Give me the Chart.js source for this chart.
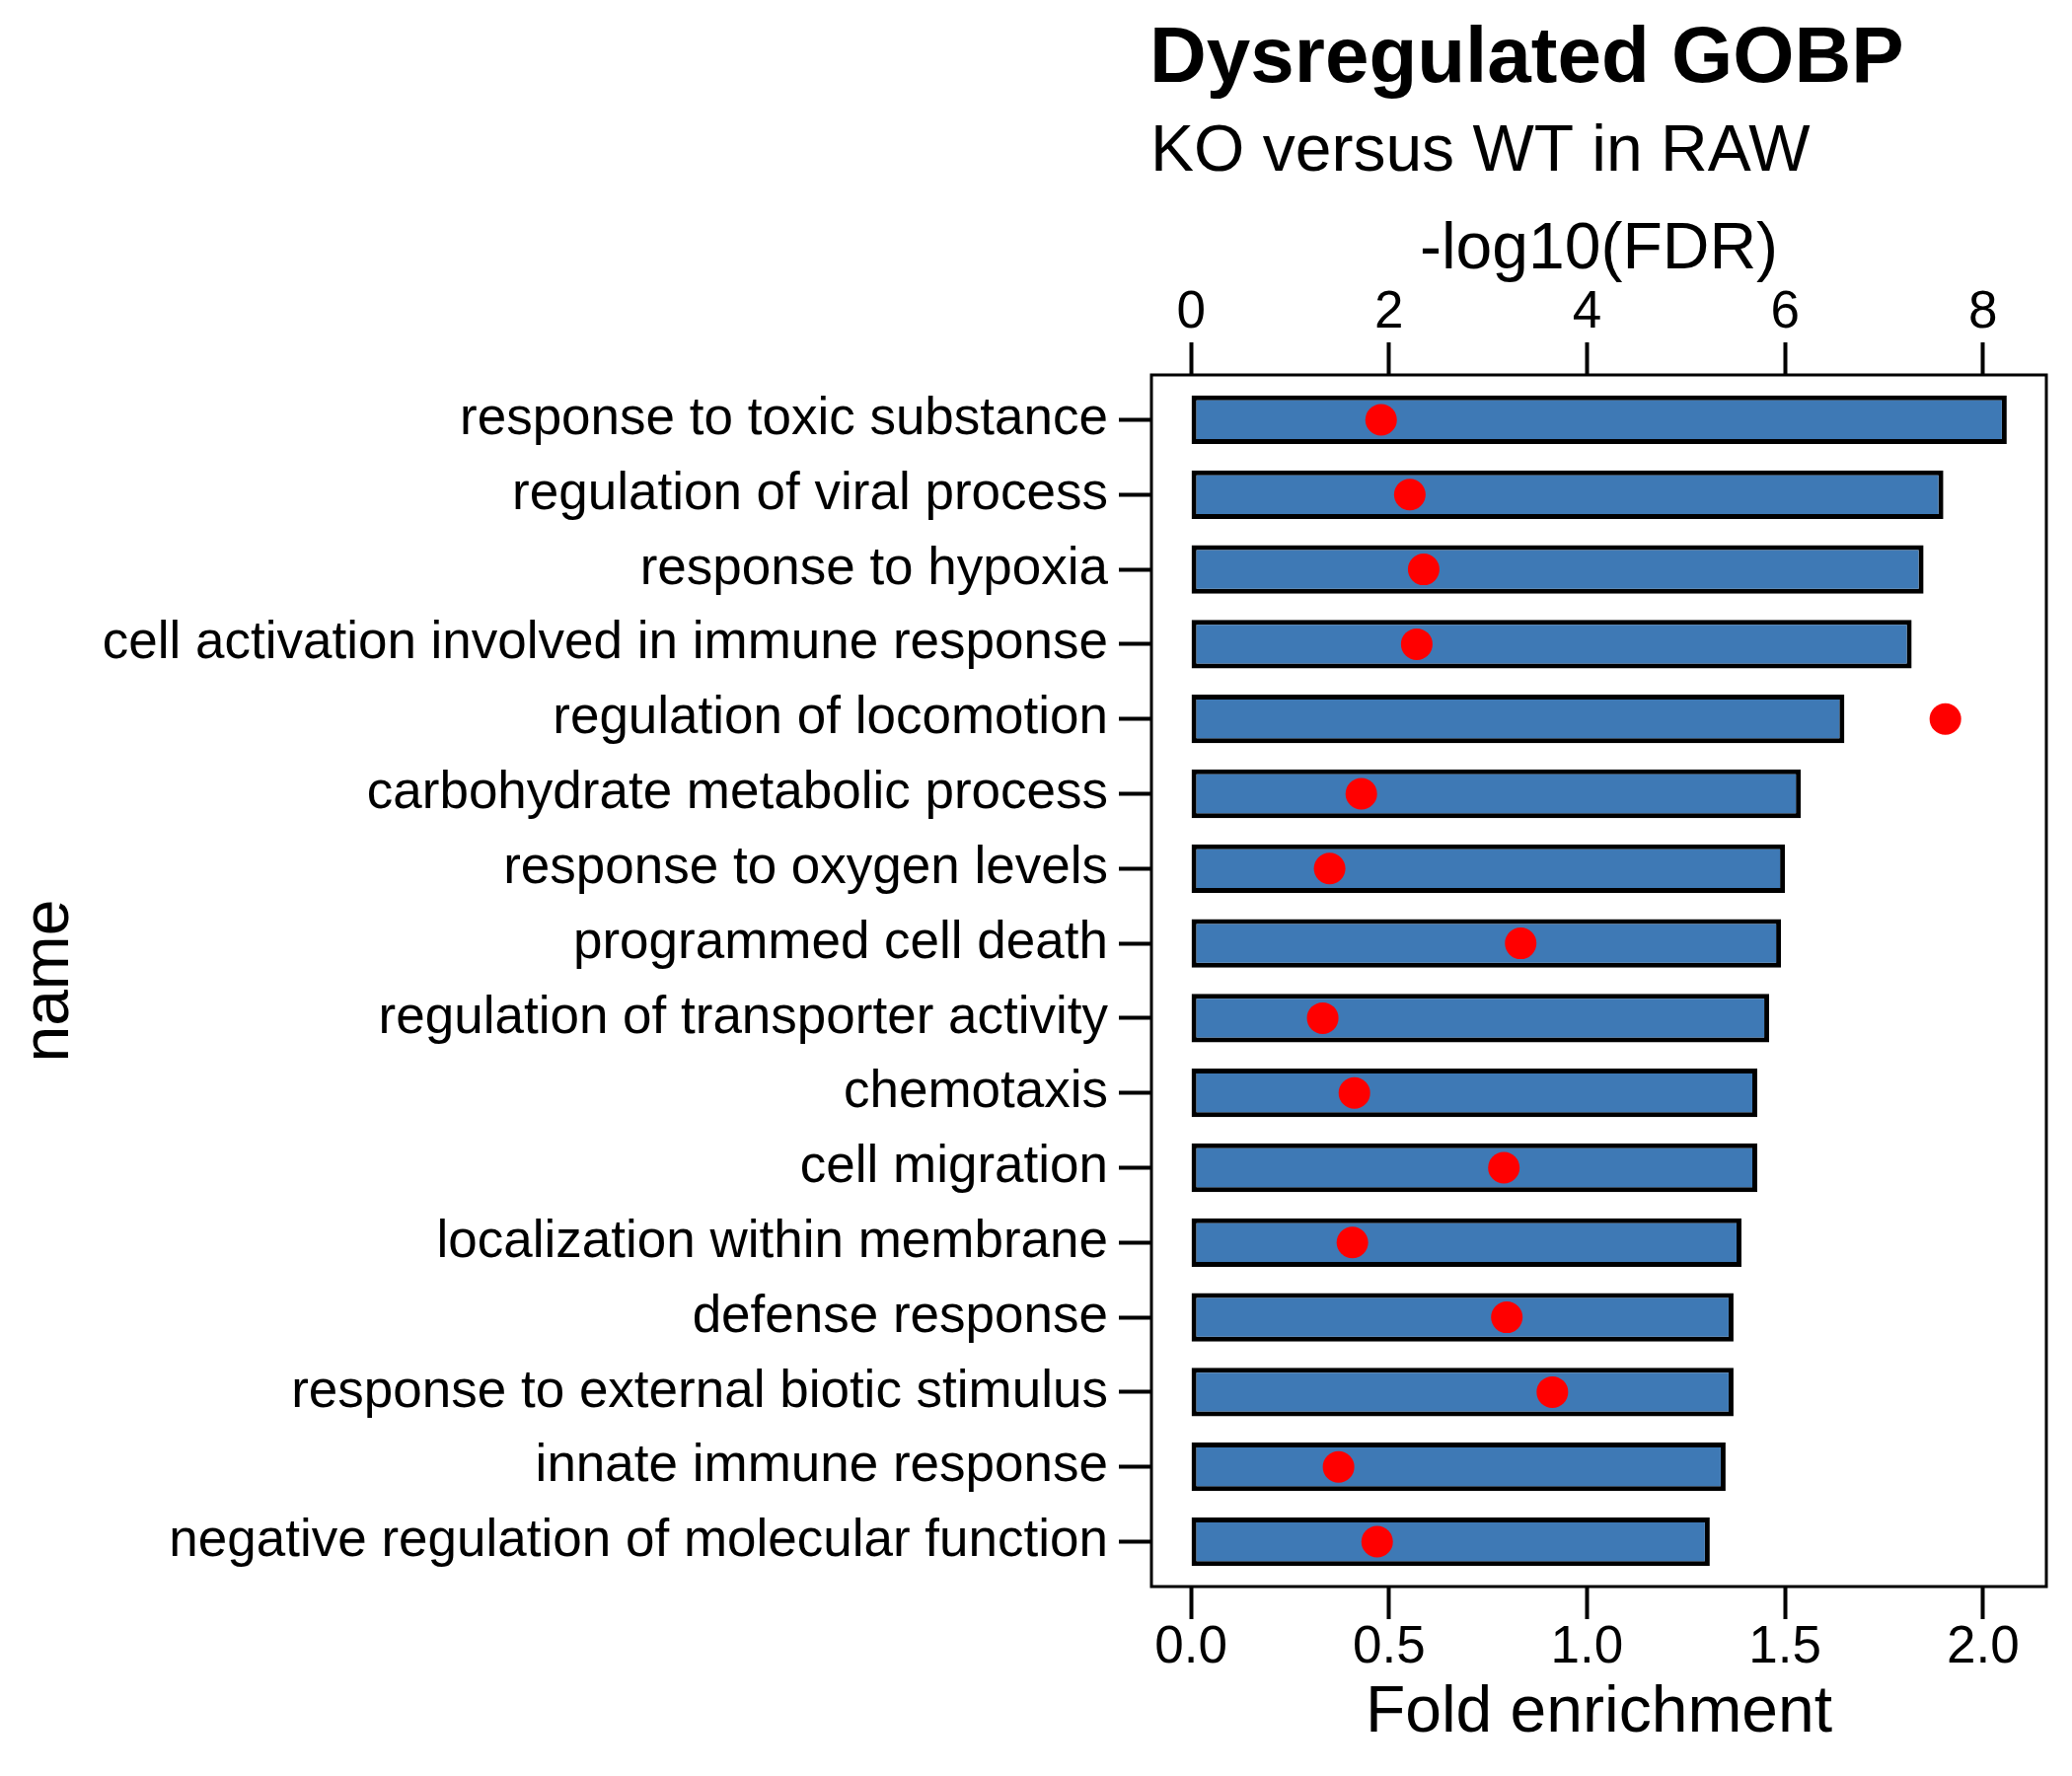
<!DOCTYPE html>
<html>
<head>
<meta charset="utf-8">
<script src="https://cdn.jsdelivr.net/npm/chart.js@4.4.0/dist/chart.umd.min.js"></script>
<style>
body { margin: 0; background: #fff; }
</style>
</head>
<body>
<canvas id="goChart" width="2100" height="1800"></canvas>
<script>
// GO terms, top to bottom
var termNames = [
    "response to toxic substance",
    "regulation of viral process",
    "response to hypoxia",
    "cell activation involved in immune response",
    "regulation of locomotion",
    "carbohydrate metabolic process",
    "response to oxygen levels",
    "programmed cell death",
    "regulation of transporter activity",
    "chemotaxis",
    "cell migration",
    "localization within membrane",
    "defense response",
    "response to external biotic stimulus",
    "innate immune response",
    "negative regulation of molecular function"
];
// bars (bottom axis)
var foldEnrichment = [2.06, 1.90, 1.85, 1.82, 1.65, 1.54, 1.50, 1.49, 1.46, 1.43, 1.43, 1.39, 1.37, 1.37, 1.35, 1.31];
// red dots (top axis)
var negLog10Fdr = [1.92, 2.21, 2.35, 2.28, 7.62, 1.72, 1.40, 3.33, 1.33, 1.65, 3.16, 1.63, 3.19, 3.65, 1.49, 1.88];

var foldTicks = [0, 0.5, 1, 1.5, 2];
var fdrTicks = [0, 2, 4, 6, 8];

var chartTitle = "Dysregulated GOBP";
var chartSubtitle = "KO versus WT in RAW";

var fontName = "'Liberation Sans', Arial, Helvetica, sans-serif";
var tickFont = { family: fontName, size: 53, lineHeight: 1 };
var axisTitleFont = { family: fontName, size: 66, lineHeight: 1 };
function gridOpts() {
    return {
        offset: false,
        drawOnChartArea: false,
        drawTicks: true,
        tickLength: 33,
        tickWidth: 4,
        tickColor: "#000",
        color: "#000"
    };
}

// panel frame + title/subtitle
var panelPlugin = {
    id: "panel",
    afterDraw: function(chart) {
        var ctx = chart.ctx;
        var a = chart.chartArea;
        ctx.save();
        ctx.strokeStyle = "#000";
        ctx.lineWidth = 3;
        ctx.strokeRect(a.left, a.top, a.right - a.left, a.bottom - a.top);
        ctx.fillStyle = "#000";
        ctx.textAlign = "left";
        ctx.textBaseline = "alphabetic";
        ctx.font = "bold 80px " + fontName;
        ctx.fillText(chartTitle, a.left - 2, 83);
        ctx.font = "66px " + fontName;
        ctx.fillText(chartSubtitle, a.left - 1, 173);
        ctx.restore();
    }
};

new Chart(document.getElementById("goChart"), {
    type: "bar",
    data: {
        datasets: [{
            type: "scatter",
            data: negLog10Fdr.map(function(v, i) { return { x: v, y: i }; }),
            xAxisID: "x2",
            yAxisID: "y",
            backgroundColor: "#FF0000",
            borderWidth: 0,
            pointRadius: 16,
            order: 1
        }, {
            type: "bar",
            data: foldEnrichment.map(function(v, i) { return { x: v, y: i }; }),
            xAxisID: "x",
            yAxisID: "y",
            backgroundColor: "#3E79B5",
            borderColor: "#000",
            borderWidth: 5,
            borderSkipped: false,
            barPercentage: 0.65,
            categoryPercentage: 1,
            order: 2
        }]
    },
    options: {
        responsive: false,
        devicePixelRatio: 1,
        animation: false,
        indexAxis: "y",
        layout: { padding: { top: 221, right: 26, bottom: 30, left: 0 } },
        plugins: {
            legend: { display: false },
            tooltip: { enabled: false }
        },
        scales: {
            x: {
                type: "linear",
                position: "bottom",
                offset: false,
                min: -0.1,
                max: 2.16,
                afterBuildTicks: function(s) { s.ticks = foldTicks.map(function(v) { return { value: v }; }); },
                afterFit: function(s) { s.height = 162; },
                ticks: {
                    callback: function(v) { return v.toFixed(1); },
                    font: tickFont, color: "#000", padding: 3,
                    maxRotation: 0, autoSkip: false
                },
                grid: gridOpts(),
                border: { display: false },
                title: { display: true, text: "Fold enrichment", font: axisTitleFont, color: "#000", padding: 0 }
            },
            x2: {
                type: "linear",
                position: "top",
                offset: false,
                min: -0.4,
                max: 8.64,
                afterBuildTicks: function(s) { s.ticks = fdrTicks.map(function(v) { return { value: v }; }); },
                afterFit: function(s) { s.height = 159; },
                ticks: {
                    callback: function(v) { return String(v); },
                    font: tickFont, color: "#000", padding: 3,
                    maxRotation: 0, autoSkip: false
                },
                grid: gridOpts(),
                border: { display: false },
                title: { display: true, text: "-log10(FDR)", font: axisTitleFont, color: "#000", padding: 0 }
            },
            y: {
                type: "linear",
                reverse: true,
                offset: false,
                min: -0.6,
                max: 15.6,
                afterBuildTicks: function(s) { s.ticks = termNames.map(function(n, i) { return { value: i }; }); },
                afterFit: function(s) { s.width = 1167; },
                ticks: {
                    callback: function(v) { return termNames[v]; },
                    font: tickFont, color: "#000", padding: 11,
                    autoSkip: false
                },
                grid: gridOpts(),
                border: { display: false },
                title: { display: true, text: "name", font: axisTitleFont, color: "#000", padding: { top: 18, bottom: 0 } }
            }
        }
    },
    plugins: [panelPlugin]
});
</script>
</body>
</html>
